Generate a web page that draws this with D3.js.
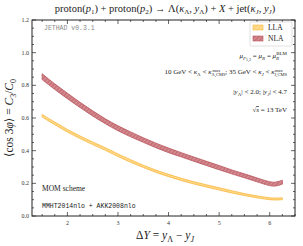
<!DOCTYPE html>
<html>
<head>
<meta charset="utf-8">
<script src="https://cdn.jsdelivr.net/npm/d3@7"></script>
<style>
  body { margin: 0; background: #fff; }
  svg { display: block; font-family: "Liberation Serif", "DejaVu Serif", serif; }
  .mono { font-family: "Liberation Mono", "DejaVu Sans Mono", monospace; }
</style>
</head>
<body>
<svg id="chart" width="303" height="246"></svg>
<script>
// rapidity separation grid
const deltaY = [1.5, 1.75, 2.0, 2.25, 2.5, 2.75, 3.0, 3.25, 3.5, 3.75, 4.0, 4.25, 4.5, 4.75, 5.0, 5.25, 5.5, 5.75, 6.0, 6.1, 6.25];

// NLA band (lower / upper)
const nlaLow = [0.835, 0.775, 0.718, 0.664, 0.612, 0.565, 0.522, 0.485, 0.451, 0.418, 0.388, 0.362, 0.335, 0.309, 0.283, 0.258, 0.234, 0.209, 0.186, 0.183, 0.195];
const nlaHigh = [0.871, 0.809, 0.752, 0.696, 0.644, 0.595, 0.552, 0.515, 0.479, 0.446, 0.416, 0.388, 0.361, 0.335, 0.309, 0.282, 0.258, 0.233, 0.210, 0.207, 0.219];

// LLA band (lower / upper)
const llaLow = [0.606, 0.559, 0.514, 0.474, 0.437, 0.402, 0.364, 0.329, 0.297, 0.267, 0.241, 0.217, 0.196, 0.177, 0.159, 0.141, 0.125, 0.111, 0.100, 0.098, 0.100];
const llaHigh = [0.622, 0.575, 0.530, 0.490, 0.453, 0.418, 0.380, 0.345, 0.311, 0.281, 0.255, 0.231, 0.210, 0.191, 0.173, 0.155, 0.137, 0.123, 0.112, 0.110, 0.112];

const xTicks = [2, 3, 4, 5, 6];
const yTicks = [0.0, 0.2, 0.4, 0.6, 0.8, 1.0, 1.2];

const svg = d3.select("#chart");
const mLeft = 32, mRight = 295, mTop = 20, mBottom = 216;

const x = d3.scaleLinear().domain([1.3, 6.5]).range([mLeft, mRight]);
const y = d3.scaleLinear().domain([0, 1.2]).range([mBottom, mTop]);

// hatch patterns for the bands
const defs = svg.append("defs");
const llaPat = defs.append("pattern")
  .attr("id", "llaHatch").attr("patternUnits", "userSpaceOnUse")
  .attr("width", 3).attr("height", 3).attr("patternTransform", "rotate(45)");
llaPat.append("rect").attr("width", 3).attr("height", 3).attr("fill", "#ffd37a");
llaPat.append("line").attr("x1", 0).attr("y1", 0).attr("x2", 0).attr("y2", 3)
  .attr("stroke", "#fff0cc").attr("stroke-width", 0.8);

const nlaPat = defs.append("pattern")
  .attr("id", "nlaHatch").attr("patternUnits", "userSpaceOnUse")
  .attr("width", 3).attr("height", 3).attr("patternTransform", "rotate(45)");
nlaPat.append("rect").attr("width", 3).attr("height", 3).attr("fill", "#c9747b");
nlaPat.append("line").attr("x1", 0).attr("y1", 0).attr("x2", 0).attr("y2", 3)
  .attr("stroke", "#e9c3c5").attr("stroke-width", 0.8);

// bands
function band(lo, hi) {
  return d3.area()
    .x((d, i) => x(deltaY[i]))
    .y0((d, i) => y(lo[i]))
    .y1((d, i) => y(hi[i]))
    .curve(d3.curveCatmullRom)(deltaY);
}

svg.append("path").attr("d", band(llaLow, llaHigh))
  .attr("fill", "url(#llaHatch)").attr("stroke", "#f7b840").attr("stroke-width", 0.8);
svg.append("path").attr("d", band(nlaLow, nlaHigh))
  .attr("fill", "url(#nlaHatch)").attr("stroke", "#b9545c").attr("stroke-width", 0.8);

// frame
svg.append("rect")
  .attr("x", mLeft).attr("y", mTop)
  .attr("width", mRight - mLeft).attr("height", mBottom - mTop)
  .attr("fill", "none").attr("stroke", "#222").attr("stroke-width", 1);

// inward ticks on all four sides
const tk = svg.append("g").attr("stroke", "#222").attr("stroke-width", 0.7);
d3.range(1.5, 6.51, 0.25).forEach(v => {
  const major = Math.abs(v - Math.round(v)) < 1e-6;
  const len = major ? 4 : 2;
  tk.append("line").attr("x1", x(v)).attr("x2", x(v)).attr("y1", mBottom).attr("y2", mBottom - len);
  tk.append("line").attr("x1", x(v)).attr("x2", x(v)).attr("y1", mTop).attr("y2", mTop + len);
});
d3.range(0, 1.2001, 0.05).forEach(v => {
  const major = Math.abs(v * 5 - Math.round(v * 5)) < 1e-6;
  const len = major ? 4 : 2;
  tk.append("line").attr("y1", y(v)).attr("y2", y(v)).attr("x1", mLeft).attr("x2", mLeft + len);
  tk.append("line").attr("y1", y(v)).attr("y2", y(v)).attr("x1", mRight).attr("x2", mRight - len);
});

// tick labels
svg.append("g").selectAll("text").data(xTicks).join("text")
  .attr("x", d => x(d)).attr("y", mBottom + 9)
  .attr("text-anchor", "middle").attr("font-size", 6).attr("fill", "#333")
  .text(d => d);
svg.append("g").selectAll("text").data(yTicks).join("text")
  .attr("x", mLeft - 3).attr("y", d => y(d) + 2)
  .attr("text-anchor", "end").attr("font-size", 6).attr("fill", "#333")
  .text(d => d.toFixed(1));

// title
const title = svg.append("text").attr("x", 165).attr("y", 12)
  .attr("text-anchor", "middle").attr("font-size", 10.5).attr("fill", "#222");
title.append("tspan").text("proton(");
title.append("tspan").attr("font-style", "italic").text("p");
title.append("tspan").attr("font-size", 7).attr("dy", 2).text("1");
title.append("tspan").attr("dy", -2).text(") + proton(");
title.append("tspan").attr("font-style", "italic").text("p");
title.append("tspan").attr("font-size", 7).attr("dy", 2).text("2");
title.append("tspan").attr("dy", -2).text(") → Λ(");
title.append("tspan").attr("font-style", "italic").text("κ");
title.append("tspan").attr("font-size", 7).attr("dy", 2).text("Λ");
title.append("tspan").attr("dy", -2).text(", ");
title.append("tspan").attr("font-style", "italic").text("y");
title.append("tspan").attr("font-size", 7).attr("dy", 2).text("Λ");
title.append("tspan").attr("dy", -2).text(") + ");
title.append("tspan").attr("font-style", "italic").text("X");
title.append("tspan").text(" + jet(");
title.append("tspan").attr("font-style", "italic").text("κ");
title.append("tspan").attr("font-size", 7).attr("font-style", "italic").attr("dy", 2).text("J");
title.append("tspan").attr("dy", -2).text(", ");
title.append("tspan").attr("font-style", "italic").text("y");
title.append("tspan").attr("font-size", 7).attr("font-style", "italic").attr("dy", 2).text("J");
title.append("tspan").attr("dy", -2).text(")");

// x axis label
const xl = svg.append("text").attr("x", 165).attr("y", 239)
  .attr("text-anchor", "middle").attr("font-size", 11.5).attr("fill", "#222");
xl.append("tspan").text("Δ");
xl.append("tspan").attr("font-style", "italic").text("Y");
xl.append("tspan").text(" = ");
xl.append("tspan").attr("font-style", "italic").text("y");
xl.append("tspan").attr("font-size", 8).attr("dy", 2.5).text("Λ");
xl.append("tspan").attr("dy", -2.5).text(" − ");
xl.append("tspan").attr("font-style", "italic").text("y");
xl.append("tspan").attr("font-size", 8).attr("font-style", "italic").attr("dy", 2.5).text("J");

// y axis label
const yl = svg.append("text")
  .attr("transform", `translate(13,${(mTop + mBottom) / 2}) rotate(-90)`)
  .attr("text-anchor", "middle").attr("font-size", 11.5).attr("fill", "#222");
yl.append("tspan").text("⟨cos 3");
yl.append("tspan").attr("font-style", "italic").text("φ");
yl.append("tspan").text("⟩ = ");
yl.append("tspan").attr("font-style", "italic").text("C");
yl.append("tspan").attr("font-size", 8).attr("dy", 2.5).text("3");
yl.append("tspan").attr("dy", -2.5).text("/");
yl.append("tspan").attr("font-style", "italic").text("C");
yl.append("tspan").attr("font-size", 8).attr("dy", 2.5).text("0");

// version tag
svg.append("text").attr("class", "mono").attr("x", 44).attr("y", 30)
  .attr("font-size", 6.5).attr("fill", "#888").text("JETHAD v0.3.1");

// legend
const lg = svg.append("g");
lg.append("rect").attr("x", 250).attr("y", 22).attr("width", 42).attr("height", 24)
  .attr("fill", "#fff").attr("stroke", "#ccc").attr("stroke-width", 0.6).attr("rx", 1);
lg.append("rect").attr("x", 253).attr("y", 25).attr("width", 10).attr("height", 5)
  .attr("fill", "url(#llaHatch)").attr("stroke", "#f7b840").attr("stroke-width", 0.6);
lg.append("text").attr("x", 268).attr("y", 30).attr("font-size", 7.5).attr("fill", "#222").text("LLA");
lg.append("rect").attr("x", 253).attr("y", 36).attr("width", 10).attr("height", 5)
  .attr("fill", "url(#nlaHatch)").attr("stroke", "#b9545c").attr("stroke-width", 0.6);
lg.append("text").attr("x", 268).attr("y", 41).attr("font-size", 7.5).attr("fill", "#222").text("NLA");

// annotations (right aligned)
const ax = 287;
const a1 = svg.append("text").attr("x", ax).attr("y", 58).attr("text-anchor", "end")
  .attr("font-size", 7).attr("fill", "#222");
a1.append("tspan").attr("font-style", "italic").text("μ");
a1.append("tspan").attr("font-size", 5).attr("font-style", "italic").attr("dy", 1.5).text("F");
a1.append("tspan").attr("font-size", 4).attr("dy", 1).text("1,2");
a1.append("tspan").attr("dy", -2.5).text(" = ");
a1.append("tspan").attr("font-style", "italic").text("μ");
a1.append("tspan").attr("font-size", 5).attr("font-style", "italic").attr("dy", 1.5).text("R");
a1.append("tspan").attr("dy", -1.5).text(" = ");
a1.append("tspan").attr("font-style", "italic").text("μ");
a1.append("tspan").attr("font-size", 5).attr("font-style", "italic").attr("dy", 1.5).text("R");
a1.append("tspan").attr("font-size", 5).attr("dy", -4.5).attr("dx", -3).text("BLM");
a1.append("tspan").attr("dy", 3).text("");

const a2 = svg.append("text").attr("x", ax).attr("y", 74).attr("text-anchor", "end")
  .attr("font-size", 7).attr("fill", "#222");
a2.append("tspan").text("10 GeV < ");
a2.append("tspan").attr("font-style", "italic").text("κ");
a2.append("tspan").attr("font-size", 5).attr("dy", 1.5).text("Λ");
a2.append("tspan").attr("dy", -1.5).text(" < ");
a2.append("tspan").attr("font-style", "italic").text("κ");
a2.append("tspan").attr("font-size", 4.5).attr("dy", 2).text("Λ,CMS");
a2.append("tspan").attr("font-size", 4.5).attr("dy", -4.5).attr("dx", -13).text("max");
a2.append("tspan").attr("dy", 2.5).attr("dx", 5).text("; 35 GeV < ");
a2.append("tspan").attr("font-style", "italic").text("κ");
a2.append("tspan").attr("font-size", 5).attr("font-style", "italic").attr("dy", 1.5).text("J");
a2.append("tspan").attr("dy", -1.5).text(" < ");
a2.append("tspan").attr("font-style", "italic").text("κ");
a2.append("tspan").attr("font-size", 4.5).attr("dy", 2).text("J,CMS");
a2.append("tspan").attr("font-size", 4.5).attr("dy", -4.5).attr("dx", -12).text("max");
a2.append("tspan").attr("dy", 2.5).attr("dx", 5).text("");

const a3 = svg.append("text").attr("x", ax).attr("y", 94).attr("text-anchor", "end")
  .attr("font-size", 7).attr("fill", "#222");
a3.append("tspan").text("|");
a3.append("tspan").attr("font-style", "italic").text("y");
a3.append("tspan").attr("font-size", 5).attr("dy", 1.5).text("Λ");
a3.append("tspan").attr("dy", -1.5).text("| < 2.0;   |");
a3.append("tspan").attr("font-style", "italic").text("y");
a3.append("tspan").attr("font-size", 5).attr("font-style", "italic").attr("dy", 1.5).text("J");
a3.append("tspan").attr("dy", -1.5).text("| < 4.7");

const a4 = svg.append("text").attr("x", ax).attr("y", 112).attr("text-anchor", "end")
  .attr("font-size", 7).attr("fill", "#222");
a4.append("tspan").text("√");
a4.append("tspan").attr("font-style", "italic").attr("text-decoration", "overline").text("s");
a4.append("tspan").text(" = 13 TeV");

// lower-left notes
svg.append("text").attr("x", 42).attr("y", 191).attr("font-size", 7.5).attr("fill", "#222")
  .text("MOM scheme");
svg.append("text").attr("class", "mono").attr("x", 42).attr("y", 208)
  .attr("font-size", 6.5).attr("fill", "#222").text("MMHT2014nlo + AKK2008nlo");
</script>
</body>
</html>
